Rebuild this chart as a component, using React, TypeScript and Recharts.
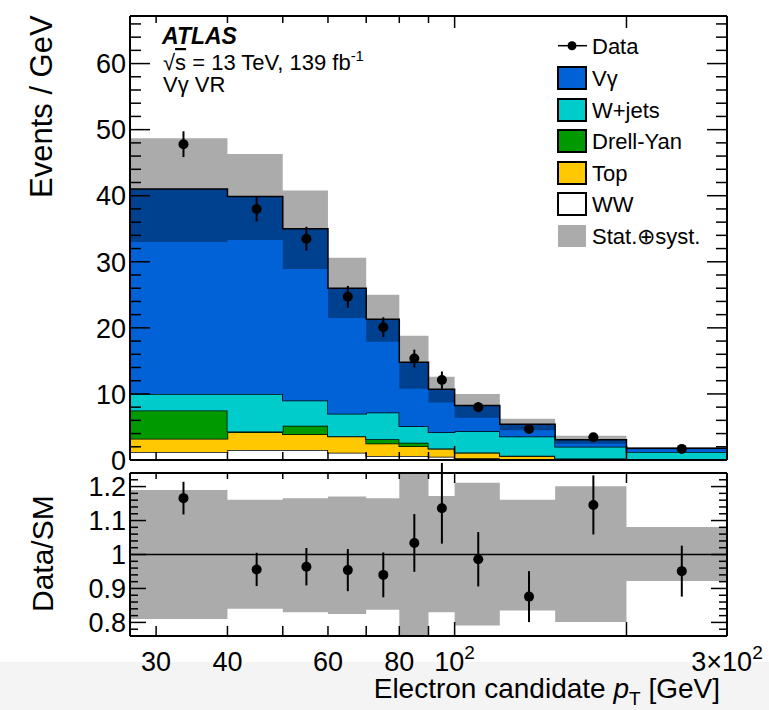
import React from 'react'
import {
  ComposedChart, Area, Scatter, ErrorBar, XAxis, YAxis, ReferenceLine,
} from 'recharts'

// bin edges [GeV] and data-point positions
const edges = [27, 40, 50, 60, 70, 80, 90, 100, 120, 150, 200, 300]
const centers = [33.5, 45, 55, 65, 75, 85, 95, 110, 135, 175, 250]

// stacked backgrounds, Events / GeV (bottom -> top)
const ww = [1.2, 1.5, 1.5, 1.1, 0.6, 0.6, 0.5, 0.25, 0.1, 0.05, 0.02]
const topq = [2.0, 2.7, 2.4, 2.45, 1.9, 1.5, 1.2, 0.85, 0.5, 0.15, 0.08]
const drellYan = [4.3, 0.1, 1.3, 0.05, 0.65, 0.5, 0.05, 0.05, 0.05, 0.02, 0.0]
const wjets = [2.5, 5.7, 3.8, 3.4, 4.05, 2.5, 2.45, 3.2, 2.9, 1.8, 1.1]
const vgamma = [31.0, 29.9, 26.0, 19.0, 14.1, 9.7, 6.5, 3.9, 1.85, 1.05, 0.58]

// stat+syst band on the total
const bandLo = [33.0, 33.3, 28.9, 21.5, 17.9, 10.8, 8.7, 6.4, 4.5, 2.45, 1.64]
const bandHi = [48.7, 46.3, 40.8, 30.6, 25.0, 18.8, 12.6, 10.0, 6.25, 3.66, 1.93]

// data
const dataY = [47.8, 38.0, 33.5, 24.7, 20.1, 15.35, 12.1, 8.0, 4.7, 3.45, 1.68]
const dataErr = [1.95, 1.9, 1.8, 1.65, 1.5, 1.35, 1.3, 0.75, 0.4, 0.3, 0.13]

// ratio panel
const ratioY = [1.166, 0.956, 0.964, 0.954, 0.94, 1.034, 1.136, 0.986, 0.876, 1.146, 0.951]
const ratioErr: (number | number[])[] = [0.048, 0.049, 0.055, 0.062, 0.066, 0.085, [0.104, 0.15], 0.08, 0.075, 0.087, 0.075]
const ratioLo = [0.81, 0.84, 0.83, 0.825, 0.837, 0.70, 0.83, 0.791, 0.835, 0.801, 0.922]
const ratioHi = [1.19, 1.161, 1.166, 1.171, 1.166, 1.30, 1.172, 1.211, 1.161, 1.201, 1.081]

// axes
const xTicks = [30, 40, 50, 60, 70, 80, 90, 100, 200, 300]
const xLabels: Record<number, [string, string?]> = {
  30: ['30'], 40: ['40'], 60: ['60'], 80: ['80'], 100: ['10', '2'], 300: ['3×10', '2'],
}
const yTicksUp = [0, 2, 4, 6, 8, 10, 12, 14, 16, 18, 20, 22, 24, 26, 28, 30, 32, 34, 36, 38, 40,
  42, 44, 46, 48, 50, 52, 54, 56, 58, 60, 62, 64, 66]
const yTicksRatio = [0.78, 0.8, 0.82, 0.84, 0.86, 0.88, 0.9, 0.92, 0.94, 0.96, 0.98, 1.0,
  1.02, 1.04, 1.06, 1.08, 1.1, 1.12, 1.14, 1.16, 1.18, 1.2, 1.22]

const COLORS = {
  vgamma: '#0062d6',
  wjets: '#00cccc',
  drellYan: '#009a00',
  top: '#ffc800',
  ww: '#ffffff',
}

const legendItems = [
  { name: 'Vγ', fill: COLORS.vgamma },
  { name: 'W+jets', fill: COLORS.wjets },
  { name: 'Drell-Yan', fill: COLORS.drellYan },
  { name: 'Top', fill: COLORS.top },
  { name: 'WW', fill: COLORS.ww },
]

const FONT = '"Liberation Sans", Arial, Helvetica, sans-serif'

const pick = (i: number) => Math.min(i, centers.length - 1)

const stackRows = edges.map((x, i) => {
  const j = pick(i)
  return {
    x,
    ww: ww[j], top: topq[j], dy: drellYan[j], wjets: wjets[j], vgamma: vgamma[j],
    band: [bandLo[j], bandHi[j]],
  }
})
const ratioRows = edges.map((x, i) => {
  const j = pick(i)
  return { x, band: [ratioLo[j], ratioHi[j]] }
})
const dataPts = centers.map((x, i) => ({ x, y: dataY[i], err: dataErr[i] }))
const ratioPts = centers.map((x, i) => ({ x, y: ratioY[i], err: ratioErr[i] }))

const isMajorX = (v: number) => v >= 100

function makeXTick(side: 'top' | 'bottom', minLen: number, majLen: number, labels: boolean) {
  return (props: any) => {
    const { x, y, payload } = props
    const v = payload.value as number
    const len = isMajorX(v) ? majLen : minLen
    const dir = side === 'bottom' ? -1 : 1
    const lab = labels ? xLabels[v] : undefined
    return (
      <g>
        {v < 300 && <line x1={x} x2={x} y1={y} y2={y + dir * len} stroke="#000" strokeWidth={1.5} />}
        {lab && (
          <text x={x} y={y + 35} textAnchor="middle" fontSize={27} fontFamily={FONT} fill="#000">
            {lab[0]}
            {lab[1] && <tspan dy={-12} fontSize={19}>{lab[1]}</tspan>}
          </text>
        )}
      </g>
    )
  }
}

function makeYTick(side: 'left' | 'right', isMajor: (v: number) => boolean, minLen: number, majLen: number,
  fmt?: (v: number) => string) {
  return (props: any) => {
    const { x, y, payload } = props
    const v = payload.value as number
    const maj = isMajor(v)
    const dir = side === 'left' ? 1 : -1
    return (
      <g>
        <line x1={x} x2={x + dir * (maj ? majLen : minLen)} y1={y} y2={y} stroke="#000" strokeWidth={1.5} />
        {fmt && maj && (
          <text x={x - 4} y={y} dy="0.36em" textAnchor="end" fontSize={27} fontFamily={FONT} fill="#000">
            {fmt(v)}
          </text>
        )}
      </g>
    )
  }
}

const majUp = (v: number) => v % 10 === 0
const majRatio = (v: number) => Math.abs(v * 10 - Math.round(v * 10)) < 1e-6
const fmtRatio = (v: number) => (Math.abs(v - 1) < 1e-9 ? '1' : v.toFixed(1))

const frame = { stroke: '#000', strokeWidth: 2 }

function UpperPanel() {
  return (
    <ComposedChart width={769} height={476} data={stackRows} margin={{ top: 0, right: 0, bottom: 0, left: 0 }}>
      <XAxis xAxisId="b" dataKey="x" type="number" scale="log" domain={[27, 300]} allowDataOverflow
        orientation="bottom" height={16} ticks={xTicks} interval={0} tickSize={0} tickMargin={0}
        axisLine={frame} tickLine={false} tick={makeXTick('bottom', 8, 14, false)} />
      <XAxis xAxisId="t" dataKey="x" type="number" scale="log" domain={[27, 300]} allowDataOverflow
        orientation="top" height={16} ticks={xTicks} interval={0} tickSize={0} tickMargin={0}
        axisLine={frame} tickLine={false} tick={makeXTick('top', 7, 12, false)} />
      <YAxis yAxisId="l" type="number" domain={[0, 67.2]} allowDataOverflow width={130}
        ticks={yTicksUp} interval={0} tickSize={0} tickMargin={0} axisLine={frame} tickLine={false}
        tick={makeYTick('left', majUp, 11, 20, (v) => String(v))} />
      <YAxis yAxisId="r" orientation="right" type="number" domain={[0, 67.2]} allowDataOverflow width={42}
        ticks={yTicksUp} interval={0} tickSize={0} tickMargin={0} axisLine={frame} tickLine={false}
        tick={makeYTick('right', majUp, 11, 20)} />

      <Area xAxisId="b" yAxisId="l" type="stepAfter" dataKey="ww" stackId="s" fill={COLORS.ww} fillOpacity={1}
        stroke="#000" strokeWidth={1.5} isAnimationActive={false} dot={false} activeDot={false} />
      <Area xAxisId="b" yAxisId="l" type="stepAfter" dataKey="top" stackId="s" fill={COLORS.top} fillOpacity={1}
        stroke="#000" strokeWidth={1.5} isAnimationActive={false} dot={false} activeDot={false} />
      <Area xAxisId="b" yAxisId="l" type="stepAfter" dataKey="dy" stackId="s" fill={COLORS.drellYan} fillOpacity={1}
        stroke="#000" strokeWidth={1.5} isAnimationActive={false} dot={false} activeDot={false} />
      <Area xAxisId="b" yAxisId="l" type="stepAfter" dataKey="wjets" stackId="s" fill={COLORS.wjets} fillOpacity={1}
        stroke="#000" strokeWidth={1.5} isAnimationActive={false} dot={false} activeDot={false} />
      <Area xAxisId="b" yAxisId="l" type="stepAfter" dataKey="vgamma" stackId="s" fill={COLORS.vgamma} fillOpacity={1}
        stroke="#000" strokeWidth={1.5} isAnimationActive={false} dot={false} activeDot={false} />
      <Area xAxisId="b" yAxisId="l" type="stepAfter" dataKey="band" fill="#000" fillOpacity={0.33}
        stroke="none" isAnimationActive={false} dot={false} activeDot={false} />

      <Scatter xAxisId="b" yAxisId="l" data={dataPts} dataKey="y" isAnimationActive={false}
        shape={(p: any) => <circle cx={p.cx} cy={p.cy} r={5} fill="#000" />}>
        <ErrorBar dataKey="err" direction="y" width={0} stroke="#000" strokeWidth={2} isAnimationActive={false} />
      </Scatter>
    </ComposedChart>
  )
}

function RatioPanel() {
  return (
    <ComposedChart width={769} height={247} data={ratioRows} margin={{ top: 0, right: 0, bottom: 0, left: 0 }}>
      <XAxis xAxisId="b" dataKey="x" type="number" scale="log" domain={[27, 300]} allowDataOverflow
        orientation="bottom" height={74} ticks={xTicks} interval={0} tickSize={0} tickMargin={0}
        axisLine={frame} tickLine={false} tick={makeXTick('bottom', 10, 14, true)} />
      <XAxis xAxisId="t" dataKey="x" type="number" scale="log" domain={[27, 300]} allowDataOverflow
        orientation="top" height={10} ticks={xTicks} interval={0} tickSize={0} tickMargin={0}
        axisLine={frame} tickLine={false} tick={makeXTick('top', 6, 10, false)} />
      <YAxis yAxisId="l" type="number" domain={[0.76, 1.24]} allowDataOverflow width={130}
        ticks={yTicksRatio} interval={0} tickSize={0} tickMargin={0} axisLine={frame} tickLine={false}
        tick={makeYTick('left', majRatio, 8, 16, fmtRatio)} />
      <YAxis yAxisId="r" orientation="right" type="number" domain={[0.76, 1.24]} allowDataOverflow width={42}
        ticks={yTicksRatio} interval={0} tickSize={0} tickMargin={0} axisLine={frame} tickLine={false}
        tick={makeYTick('right', majRatio, 8, 16)} />

      <Area xAxisId="b" yAxisId="l" type="stepAfter" dataKey="band" fill="#000" fillOpacity={0.33}
        stroke="none" isAnimationActive={false} dot={false} activeDot={false} />
      <ReferenceLine xAxisId="b" yAxisId="l" y={1} stroke="#000" strokeWidth={1.5} />
      <Scatter xAxisId="b" yAxisId="l" data={ratioPts} dataKey="y" isAnimationActive={false}
        shape={(p: any) => <circle cx={p.cx} cy={p.cy} r={5} fill="#000" />}>
        <ErrorBar dataKey="err" direction="y" width={0} stroke="#000" strokeWidth={2} isAnimationActive={false} />
      </Scatter>
    </ComposedChart>
  )
}

function Overlay() {
  const rowY = [78, 110, 141, 173, 204]
  return (
    <svg width={769} height={710} style={{ position: 'absolute', left: 0, top: 0, pointerEvents: 'none' }}
      fontFamily={FONT} fill="#000">
      {/* ATLAS label */}
      <text x={162} y={44} fontSize={23} fontWeight="bold" fontStyle="italic">ATLAS</text>
      <text x={163} y={70} fontSize={22}>
        √<tspan style={{ textDecoration: 'overline' }}>s</tspan> = 13 TeV, 139 fb
        <tspan dy={-9} fontSize={15}>-1</tspan>
      </text>
      <text x={163} y={92} fontSize={22}>Vγ VR</text>

      {/* legend */}
      <line x1={558} x2={587} y1={45.7} y2={45.7} stroke="#000" strokeWidth={1.5} />
      <circle cx={572} cy={45.7} r={4.5} fill="#000" />
      <text x={592} y={45.7} dy="0.36em" fontSize={22}>Data</text>
      {legendItems.map((it, i) => (
        <g key={it.name}>
          <rect x={558} y={rowY[i] - 11} width={28} height={22} fill={it.fill} stroke="#000" strokeWidth={2} />
          <text x={592} y={rowY[i]} dy="0.36em" fontSize={22}>{it.name}</text>
        </g>
      ))}
      <rect x={558} y={225} width={28} height={22} fill="#000" fillOpacity={0.33} />
      <text x={592} y={236} dy="0.36em" fontSize={22}>Stat.⊕syst.</text>

      {/* axis titles */}
      <text transform="translate(52,198) rotate(-90)" fontSize={31}>Events / GeV</text>
      <text transform="translate(53,612) rotate(-90)" fontSize={30}>Data/SM</text>
      <text x={720} y={698} textAnchor="end" fontSize={28}>
        Electron candidate <tspan fontStyle="italic">p</tspan>
        <tspan dy={7} fontSize={19}>T</tspan>
        <tspan dy={-7}>{' [GeV]'}</tspan>
      </text>
    </svg>
  )
}

export default function App() {
  return (
    <div style={{ position: 'absolute', left: 0, top: 0, width: 769, height: 710, background: '#fff', overflow: 'hidden' }}>
      <div style={{ position: 'absolute', left: 0, top: 662, width: 769, height: 48, background: '#f4f4f4' }} />
      <div style={{ position: 'absolute', left: 0, top: 0 }}>
        <UpperPanel />
      </div>
      <div style={{ position: 'absolute', left: 0, top: 463 }}>
        <RatioPanel />
      </div>
      <Overlay />
    </div>
  )
}
